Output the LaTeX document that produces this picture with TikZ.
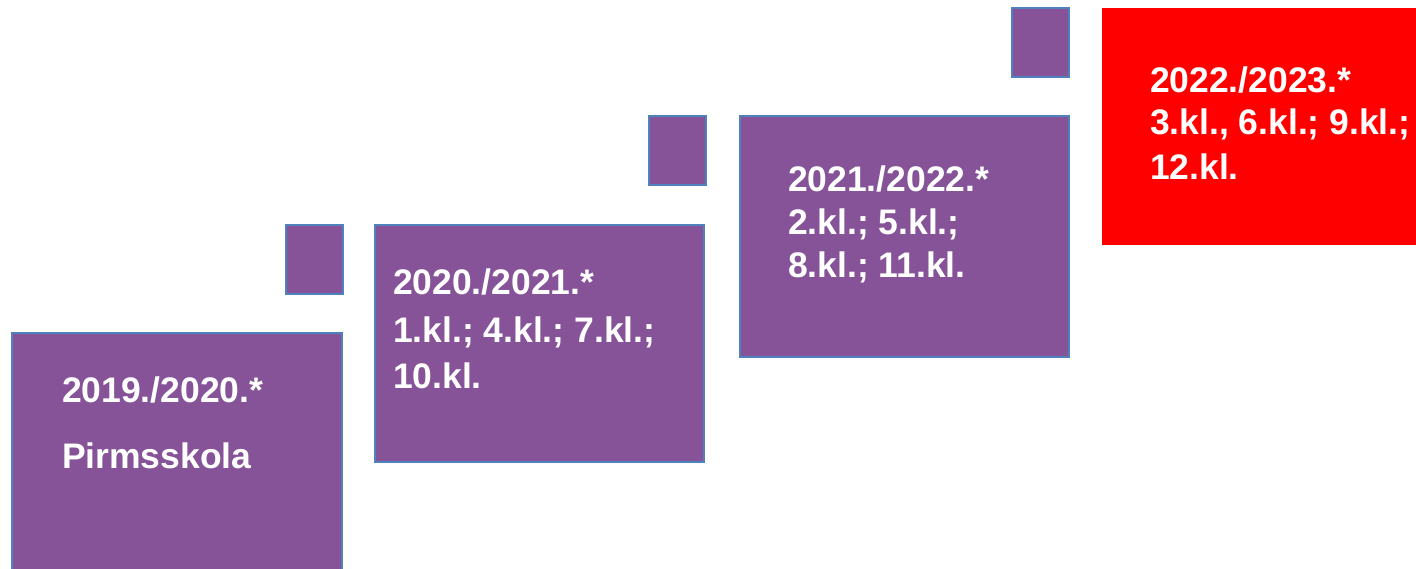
\documentclass[tikz,border=0pt]{standalone}
\usepackage{fontspec}
\setmainfont{Liberation Sans}
\definecolor{boxpurple}{RGB}{134,83,152}
\definecolor{boxred}{RGB}{255,0,0}
\definecolor{edgeblue}{RGB}{79,129,189}
\begin{document}
\begin{tikzpicture}[x=1pt, y=-1pt,
    every node/.style = {shape=rectangle, anchor=north west, inner sep=0pt, outer sep=0pt},
    yearbox/.style = {fill=boxpurple, draw=edgeblue, line width=1.2pt},
    redbox/.style = {fill=boxred},
    stepbox/.style = {yearbox, minimum width=57pt, minimum height=69pt},
    yeartext/.style = {anchor=base west, align=left, text=white,
                       font=\fontsize{35.5}{43}\bfseries\selectfont}]
    \useasboundingbox (0,0) rectangle (1416,569);
    % small squares
    \node[stepbox] (s1) at (286,225) {};
    \node[stepbox] (s2) at (649,116) {};
    \node[stepbox] (s3) at (1012,8) {};
    % big boxes
    \node[yearbox, minimum width=330pt, minimum height=245pt] (b1) at (12,333) {};
    \node[yearbox, minimum width=329pt, minimum height=237pt] (b2) at (375,225) {};
    \node[yearbox, minimum width=329pt, minimum height=241pt] (b3) at (740,116) {};
    \node[redbox, minimum width=320pt, minimum height=237pt] (b4) at (1102,8) {};
    % texts (anchored at the baseline of the last line)
    \node[yeartext] (t1) at (62,468) {2019./2020.*\\[23pt] Pirmsskola};
    \node[yeartext] (t2) at (393,388) {2020./2021.*\\[5pt] 1.kl.; 4.kl.; 7.kl.;\\[3pt] 10.kl.};
    \node[yeartext] (t3) at (788,278) {2021./2022.*\\ 2.kl.; 5.kl.;\\ 8.kl.; 11.kl.};
    \node[yeartext] (t4) at (1150,180) {2022./2023.*\\[-1pt] 3.kl., 6.kl.; 9.kl.;\\[2pt] 12.kl.};
\end{tikzpicture}
\end{document}
